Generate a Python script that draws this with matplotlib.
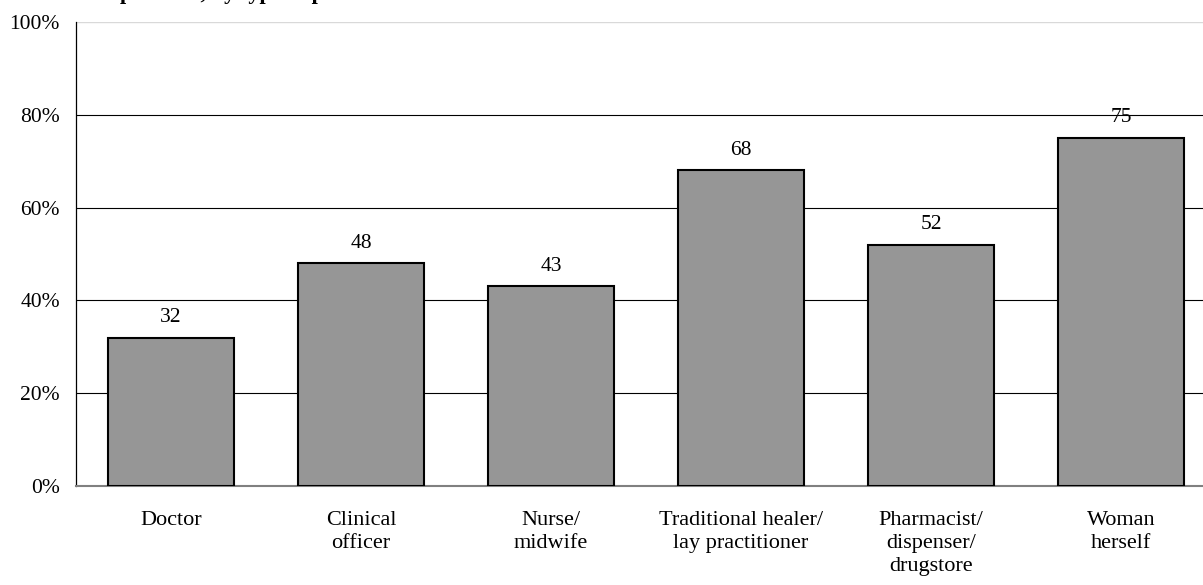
import matplotlib.pyplot as plt
import matplotlib.ticker as mticker

categories = ["Doctor", "Clinical\nofficer", "Nurse/\nmidwife",
              "Traditional healer/\nlay practitioner",
              "Pharmacist/\ndispenser/\ndrugstore", "Woman\nherself"]
values = [32, 48, 43, 68, 52, 75]
yticks = [0, 20, 40, 60, 80, 100]

plt.rcParams["font.family"] = ["Liberation Serif", "DejaVu Serif"]

fig = plt.figure(figsize=(12.03, 5.85), dpi=100)
W, H = 1203, 585
# plot area runs past the right edge of the figure
ax = fig.add_axes([76 / W, (H - 486) / H, 1140 / W, 464 / H])

x = range(len(categories))
bars = ax.bar(x, values, width=126 / 190, color="#969696",
              edgecolor="black", linewidth=1.5, zorder=3)
for b, v in zip(bars, values):
    ax.text(b.get_x() + b.get_width() / 2, v + 3.4, str(v),
            ha="center", va="baseline", fontsize=15.5, zorder=4)

ax.set_xlim(-0.5, 5.5)
ax.set_ylim(0, 100)
ax.set_yticks(yticks)
ax.yaxis.set_major_formatter(mticker.FuncFormatter(lambda v, p: f"{v:.0f}%"))
ax.set_xticks(list(x))
ax.set_xticklabels(categories, fontsize=16, va="top", linespacing=1.3)
ax.tick_params(axis="x", length=0, pad=18)
ax.tick_params(axis="y", length=0, pad=11.5, labelsize=15.5)

for t in yticks[1:-1]:
    ax.axhline(t, color="black", linewidth=0.8, zorder=1)
ax.axhline(100, color="#d9d9d9", linewidth=1.0, zorder=1)

for side in ("top", "right"):
    ax.spines[side].set_visible(False)
ax.spines["left"].set_color("black")
ax.spines["left"].set_linewidth(0.9)
ax.spines["bottom"].set_color("#808080")
ax.spines["bottom"].set_linewidth(1.5)

# chart title, mostly above the visible area
fig.text(120 / W, 1 + 1.5 / H, "provider, by type of provider",
         fontsize=16, fontweight="bold", ha="left", va="baseline")

fig.savefig("out.png", dpi=100)
